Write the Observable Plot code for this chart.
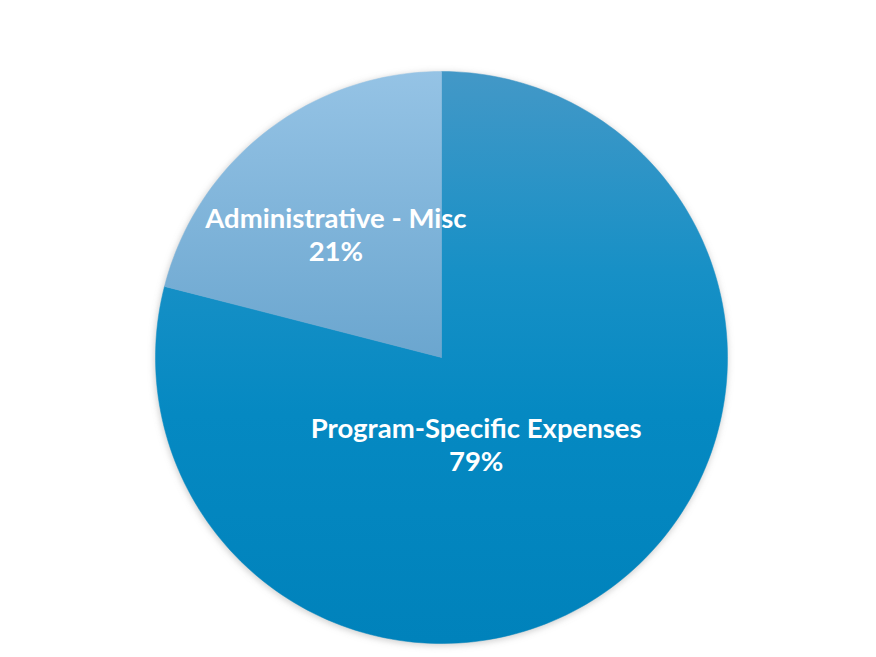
<!DOCTYPE html>
<html>
<head>
<meta charset="utf-8">
<script src="https://cdn.jsdelivr.net/npm/d3@7"></script>
<script src="https://cdn.jsdelivr.net/npm/@observablehq/plot@0.6"></script>
<style>
  html, body { margin: 0; padding: 0; background: #ffffff; }
  #chart svg { display: block; }
</style>
</head>
<body>
<div id="chart"></div>
<script>
// Data
const categories = ["Program-Specific Expenses", "Administrative - Misc"];
const values = [79, 21];
const percentLabels = ["79%", "21%"];

const table = categories.map((c, i) => ({category: c, value: values[i], pct: percentLabels[i]}));

// Pie layout (clockwise from 12 o'clock)
const arcs = d3.pie().sort(null).value(d => d.value)(table);

// Polygon points for each slice, in unit-circle coordinates
const steps = 240;
const slicePoints = arcs.flatMap(a => {
  const pts = [{category: a.data.category, x: 0, y: 0}];
  const n = Math.max(2, Math.ceil(steps * (a.endAngle - a.startAngle) / (2 * Math.PI)));
  for (let k = 0; k <= n; k++) {
    const t = a.startAngle + (a.endAngle - a.startAngle) * k / n;
    pts.push({category: a.data.category, x: Math.sin(t), y: Math.cos(t)});
  }
  pts.push({category: a.data.category, x: 0, y: 0});
  return pts;
});

// Label anchors at arc centroids (half radius)
const labels = arcs.map(a => {
  const m = (a.startAngle + a.endAngle) / 2;
  return {category: a.data.category, text: a.data.category + "\n" + a.data.pct, x: 0.5 * Math.sin(m), y: 0.5 * Math.cos(m)};
});

const fills = {
  "Program-Specific Expenses": "url(#gradBig)",
  "Administrative - Misc": "url(#gradSmall)"
};
const labelOffsets = {
  "Program-Specific Expenses": [-53, -27],
  "Administrative - Misc": [-18, -11]
};

function defsMark() {
  const defs = d3.create("svg:defs");
  const g1 = defs.append("linearGradient").attr("id", "gradBig").attr("x1", 0).attr("y1", 0).attr("x2", 0).attr("y2", 1);
  g1.append("stop").attr("offset", "0%").attr("stop-color", "#4398c7");
  g1.append("stop").attr("offset", "35%").attr("stop-color", "#1790c6");
  g1.append("stop").attr("offset", "60%").attr("stop-color", "#0589c2");
  g1.append("stop").attr("offset", "100%").attr("stop-color", "#0082bb");
  const g2 = defs.append("linearGradient").attr("id", "gradSmall").attr("x1", 0).attr("y1", 0).attr("x2", 0).attr("y2", 1);
  g2.append("stop").attr("offset", "0%").attr("stop-color", "#95c3e5");
  g2.append("stop").attr("offset", "100%").attr("stop-color", "#6ba6cf");
  const f = defs.append("filter").attr("id", "pieShadow").attr("x", "-10%").attr("y", "-10%").attr("width", "120%").attr("height", "120%");
  f.append("feGaussianBlur").attr("stdDeviation", 3);
  return defs.node();
}

function shadowMark(index, scales) {
  const cx = scales.x(0), cy = scales.y(0);
  const r = Math.abs(scales.x(1) - scales.x(0));
  const c = d3.create("svg:circle")
    .attr("cx", cx).attr("cy", cy + 2).attr("r", r + 1)
    .attr("fill", "#9a9a9a").attr("fill-opacity", 0.45)
    .attr("filter", "url(#pieShadow)");
  return c.node();
}

const sliceMarks = categories.map(c =>
  Plot.line(slicePoints.filter(d => d.category === c), {x: "x", y: "y", fill: fills[c], stroke: fills[c], strokeWidth: 0.5, curve: "linear"})
);
const textMarks = categories.map(c =>
  Plot.text(labels.filter(d => d.category === c), {
    x: "x", y: "y", text: "text",
    dx: labelOffsets[c][0], dy: labelOffsets[c][1],
    fill: "white", fontWeight: "bold", fontSize: 27.5, lineHeight: 1.2,
    textAnchor: "middle", lineAnchor: "middle"
  })
);

const chart = Plot.plot({
  width: 876,
  height: 657,
  marginLeft: 155,
  marginRight: 149,
  marginTop: 71,
  marginBottom: 14,
  x: {domain: [-1, 1], axis: null},
  y: {domain: [-1, 1], axis: null},
  style: {fontFamily: "Lato, sans-serif", background: "white"},
  marks: [defsMark, shadowMark, ...sliceMarks, ...textMarks]
});
document.getElementById("chart").appendChild(chart);
</script>
</body>
</html>
